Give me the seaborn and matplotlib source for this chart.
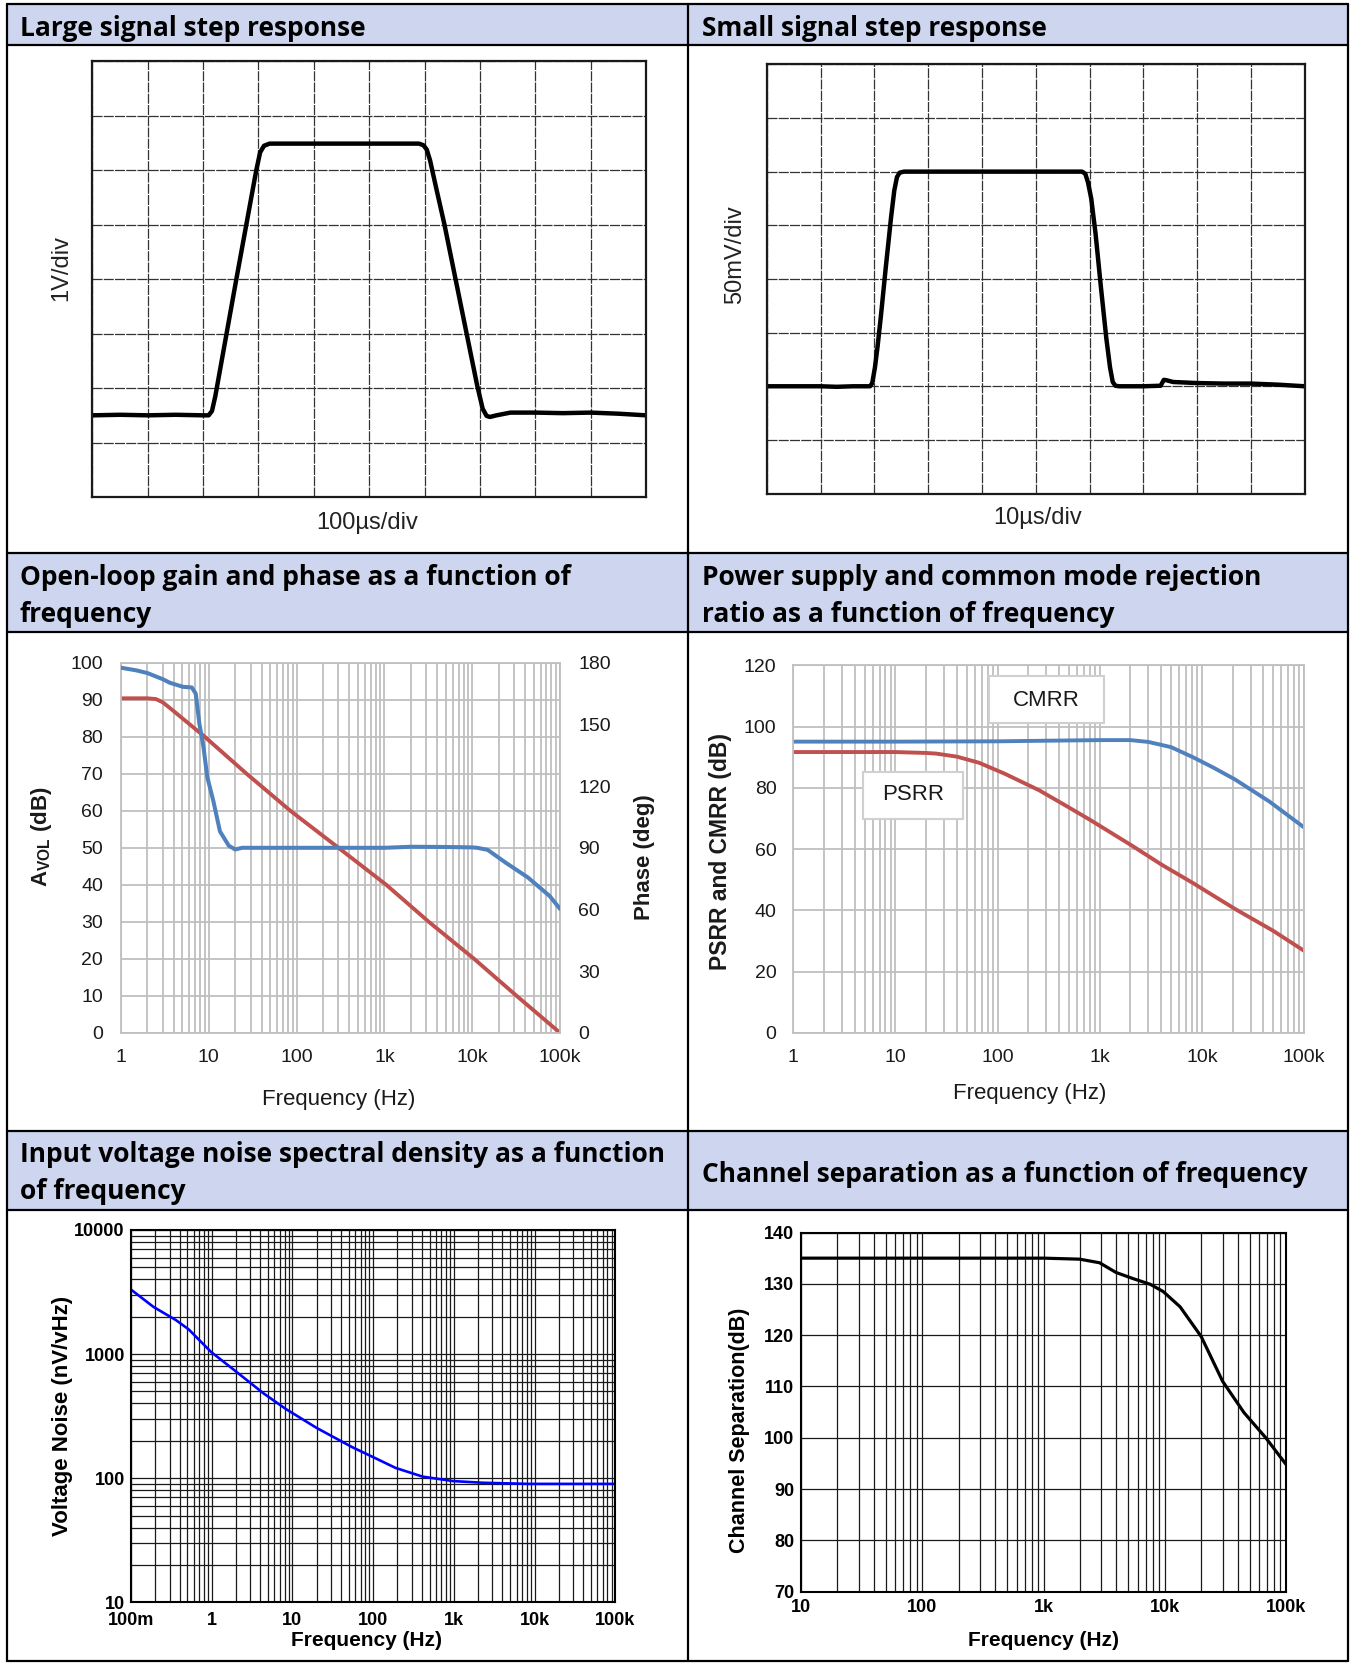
import numpy as np
import pandas as pd
import matplotlib
matplotlib.use("Agg")
import matplotlib.pyplot as plt
import seaborn as sns
from matplotlib.lines import Line2D
from matplotlib.patches import Rectangle
from matplotlib.ticker import FixedLocator, NullFormatter, LogLocator, FixedFormatter

# ---------------- data ----------------
# Large signal step response (divisions)
ls_t = [0, 0.5, 1.0, 1.5, 2.0, 2.10, 2.16, 2.22, 2.60, 2.96, 3.03, 3.10, 3.20, 4.0, 5.0,
        5.90, 5.98, 6.04, 6.10, 6.20, 6.36, 6.76, 6.95, 7.05, 7.12, 7.18, 7.30, 7.55, 8.0,
        8.5, 9.0, 9.5, 10.0]
ls_v = [1.50, 1.51, 1.50, 1.51, 1.50, 1.50, 1.58, 1.85, 4.00, 6.00, 6.33, 6.45, 6.49, 6.49, 6.49,
        6.49, 6.46, 6.38, 6.18, 5.72, 5.00, 3.00, 2.05, 1.62, 1.49, 1.47, 1.50, 1.55, 1.55,
        1.54, 1.55, 1.53, 1.50]

# Small signal step response (divisions)
ss_t = [0, 0.5, 1.0, 1.3, 1.6, 1.92, 1.96, 2.01, 2.06, 2.12, 2.21, 2.31, 2.37, 2.42, 2.47, 2.55,
        3.0, 4.0, 5.0, 5.86, 5.92, 5.97, 6.03, 6.11, 6.21, 6.31, 6.38, 6.43, 6.48, 6.55, 7.0,
        7.32, 7.38, 7.44, 7.55, 8.0, 8.5, 9.0, 9.5, 10.0]
ss_v = [2.00, 2.00, 2.00, 1.99, 2.00, 2.00, 2.06, 2.35, 2.75, 3.30, 4.20, 5.15, 5.65, 5.90, 5.98, 6.00,
        6.00, 6.00, 6.00, 6.00, 5.96, 5.80, 5.50, 4.85, 3.85, 2.90, 2.35, 2.08, 2.01, 2.00, 2.00,
        2.01, 2.12, 2.11, 2.08, 2.06, 2.05, 2.05, 2.03, 2.00]

# Open-loop gain and phase
gain_f = [1, 2, 2.5, 3, 4, 5, 9, 27, 85, 300, 1050, 3200, 10500, 32000, 100000]
gain_db = [90.4, 90.4, 90.2, 89.3, 86.9, 85.0, 80.0, 70.0, 60.0, 50.0, 40.0, 30.0, 20.0, 10.0, 0.0]
phase_f = [1, 1.5, 2, 3, 3.6, 4.5, 5.1, 6.4, 7.1, 7.8, 8.7, 9.6, 11.3, 13.4, 16.9, 20, 24, 50,
           100, 300, 1000, 2000, 5000, 10000, 11400, 15000, 24000, 43000, 76000, 100000]
phase_deg = [177.6, 176.3, 175.0, 172.0, 170.3, 169.0, 168.3, 168.0, 165.0, 150.5, 139.0, 124.5,
             112.5, 98.0, 91.0, 89.2, 90.0, 90.0, 90.0, 90.0, 90.0, 90.5, 90.4, 90.2, 90.0,
             89.0, 82.8, 75.6, 66.6, 60.3]

# PSRR / CMRR
cmrr_f = [1, 10, 100, 300, 1000, 2000, 3000, 5000, 8200, 13000, 21000, 46000, 100000]
cmrr_db = [95.1, 95.1, 95.2, 95.4, 95.6, 95.6, 95.0, 93.3, 90.0, 86.6, 82.8, 75.5, 67.1]
psrr_f = [1, 10, 20, 25, 40, 66, 118, 256, 500, 810, 2100, 4000, 8200, 21000, 50000, 100000]
psrr_db = [91.7, 91.7, 91.4, 91.2, 90.2, 88.2, 84.6, 79.2, 73.6, 69.5, 61.0, 55.0, 48.9, 40.5,
           33.3, 26.8]

# Voltage noise
noise_f = [0.1, 0.19, 0.36, 0.52, 0.98, 1.84, 4.4, 8.3, 20, 55, 102, 190, 410, 980, 2300,
           8500, 100000]
noise_v = [3310, 2400, 1880, 1580, 1042, 756, 482, 361, 254, 178, 147, 121, 103, 94.8, 91.9,
           90, 90]

# Channel separation
cs_f = [10, 100, 1000, 1990, 2900, 3970, 5500, 7600, 9700, 13400, 20000, 30000, 45000, 68000,
        100000]
cs_db = [135.0, 135.0, 135.0, 134.8, 134.1, 132.2, 131.0, 129.9, 128.5, 125.5, 119.7, 111.0,
         104.9, 100.0, 94.8]

# tick labels
freq_ticks_1_100k = [1, 10, 100, 1000, 10000, 100000]
freq_labels_1_100k = ["1", "10", "100", "1k", "10k", "100k"]
noise_xticks = [0.1, 1, 10, 100, 1000, 10000, 100000]
noise_xlabels = ["100m", "1", "10", "100", "1k", "10k", "100k"]
noise_yticks = [10, 100, 1000, 10000]
noise_ylabels = ["10", "100", "1000", "10000"]
cs_xticks = [10, 100, 1000, 10000, 100000]
cs_xlabels = ["10", "100", "1k", "10k", "100k"]

titles = {
    "r1l": ["Large signal step response"],
    "r1r": ["Small signal step response"],
    "r2l": ["Open-loop gain and phase as a function of", "frequency"],
    "r2r": ["Power supply and common mode rejection", "ratio as a function of frequency"],
    "r3l": ["Input voltage noise spectral density as a function", "of frequency"],
    "r3r": ["Channel separation as a function of frequency"],
}

# ---------------- style ----------------
sns.set_style("white")
plt.rcParams["font.family"] = ["Liberation Sans", "DejaVu Sans"]
plt.rcParams["mathtext.fontset"] = "custom"
plt.rcParams["mathtext.rm"] = "Liberation Sans"
plt.rcParams["mathtext.bf"] = "Liberation Sans:bold"

W, H = 1350, 1663
fig = plt.figure(figsize=(W / 100, H / 100), dpi=100)
fig.patch.set_facecolor("white")


def fx(x):
    return x / W


def fy(y):
    return 1 - y / H


def add_ax(l, t, r, b):
    return fig.add_axes([l / W, 1 - b / H, (r - l) / W, (b - t) / H])


HDR = "#CDD6EE"
TL, TR = 6.6, 1347.5
MID = 688.0
# header backgrounds
for (t, b) in [(3.6, 44.6), (553.0, 632.0), (1131.0, 1209.5)]:
    fig.patches.append(Rectangle((fx(TL), fy(b)), fx(TR) - fx(TL), fy(t) - fy(b),
                                 transform=fig.transFigure, facecolor=HDR, edgecolor="none",
                                 zorder=0))
# table lines
for y in [3.6, 44.6, 553.0, 632.0, 1131.0, 1209.5, 1661.0]:
    fig.add_artist(Line2D([fx(TL), fx(TR)], [fy(y), fy(y)], color="black", lw=1.6))
for x in [TL, MID, TR]:
    fig.add_artist(Line2D([fx(x), fx(x)], [fy(3.6), fy(1661.0)], color="black", lw=1.6))

# titles
TFONT = dict(family=["Open Sans", "DejaVu Sans"], weight="bold", size=19, color="black")


def title(x, baselines, lines):
    for yb, s in zip(baselines, lines):
        fig.text(fx(x), fy(yb), s, ha="left", va="baseline", **TFONT)


title(20, [36], titles["r1l"])
title(702, [36], titles["r1r"])
title(20, [585, 622], titles["r2l"])
title(702, [585, 622], titles["r2r"])
title(20, [1161.5, 1199], titles["r3l"])
title(702, [1181.6], titles["r3r"])


# ---------------- step response panels ----------------
def scope_axes(ax):
    ax.set_xlim(0, 10)
    ax.set_ylim(0, 8)
    ax.set_xticks(range(0, 11))
    ax.set_yticks(range(0, 9))
    ax.tick_params(length=0, labelbottom=False, labelleft=False)
    ax.grid(True, color="#333333", lw=0.9, ls=(0, (8, 1)))
    for sp in ax.spines.values():
        sp.set_color("#1a1a1a")
        sp.set_linewidth(1.6)
    ax.set_xlabel("")
    ax.set_ylabel("")


ax1 = add_ax(92.4, 61.4, 646, 497)
sns.lineplot(data=pd.DataFrame({"t": ls_t, "v": ls_v}), x="t", y="v", ax=ax1,
             color="black", lw=3.2, sort=False, estimator=None)
scope_axes(ax1)
fig.text(fx(61.6), fy(268), "1V/div", rotation=90, ha="center", va="center", size=17, color="#222")
fig.text(fx(367), fy(523), "100µs/div", ha="center", va="center", size=17, color="#222")

ax2 = add_ax(766.8, 64.3, 1304.8, 493.6)
sns.lineplot(data=pd.DataFrame({"t": ss_t, "v": ss_v}), x="t", y="v", ax=ax2,
             color="black", lw=3.2, sort=False, estimator=None)
scope_axes(ax2)
fig.text(fx(735.6), fy(255), "50mV/div", rotation=90, ha="center", va="center", size=17, color="#222")
fig.text(fx(1038), fy(518), "10µs/div", ha="center", va="center", size=17, color="#222")


# ---------------- excel-like log panels ----------------
GRID_G = "#BFBFBF"
RED = "#C0504D"
BLUE = "#4F81BD"


def excel_log_axes(ax, ymax, ystep):
    ax.set_xscale("log")
    ax.set_xlim(1, 100000)
    ax.set_ylim(0, ymax)
    ax.set_yticks(np.arange(0, ymax + 0.1, ystep))
    ax.xaxis.set_major_locator(FixedLocator(freq_ticks_1_100k))
    ax.xaxis.set_major_formatter(FixedFormatter(freq_labels_1_100k))
    ax.xaxis.set_minor_locator(LogLocator(base=10, subs=np.arange(2, 10)))
    ax.xaxis.set_minor_formatter(NullFormatter())
    ax.grid(True, which="both", axis="x", color=GRID_G, lw=1.3)
    ax.grid(True, which="major", axis="y", color=GRID_G, lw=1.3)
    ax.tick_params(which="both", length=0, labelsize=14, colors="#1a1a1a")
    ax.tick_params(axis="y", pad=13)
    ax.tick_params(axis="x", pad=12)
    for sp in ax.spines.values():
        sp.set_color(GRID_G)
        sp.set_linewidth(1.3)
    ax.set_xlabel("")
    ax.set_ylabel("")


ax3 = add_ax(121, 662.8, 560, 1032.8)
ax3.set_xscale("log")
sns.lineplot(data=pd.DataFrame({"f": gain_f, "g": gain_db}), x="f", y="g", ax=ax3,
             color=RED, lw=2.8, sort=False, estimator=None)
excel_log_axes(ax3, 100, 10)
ax3b = ax3.twinx()
sns.lineplot(data=pd.DataFrame({"f": phase_f, "p": phase_deg}), x="f", y="p", ax=ax3b,
             color=BLUE, lw=2.9, sort=False, estimator=None)
ax3b.set_ylim(0, 180)
ax3b.set_yticks(range(0, 181, 30))
ax3b.tick_params(length=0, labelsize=14, colors="#1a1a1a", pad=13)
ax3b.grid(False)
for sp in ax3b.spines.values():
    sp.set_visible(False)
ax3b.set_ylabel("")
ax3b.set_xlabel("")
ax3.set_xlim(1, 100000)
fig.text(fx(41.8), fy(837), r"$\mathbf{A}_{\mathbf{VOL}}$ (dB)", rotation=90, ha="center",
         va="center", size=16, weight="bold", color="#1a1a1a")
fig.text(fx(644.7), fy(857), "Phase (deg)", rotation=90, ha="center", va="center", size=16,
         weight="bold", color="#1a1a1a")
fig.text(fx(339), fy(1099), "Frequency (Hz)", ha="center", va="center", size=16, color="#1a1a1a")

ax4 = add_ax(793.2, 665.4, 1304, 1032.8)
ax4.set_xscale("log")
sns.lineplot(data=pd.DataFrame({"f": cmrr_f, "d": cmrr_db}), x="f", y="d", ax=ax4,
             color=BLUE, lw=2.8, sort=False, estimator=None)
sns.lineplot(data=pd.DataFrame({"f": psrr_f, "d": psrr_db}), x="f", y="d", ax=ax4,
             color=RED, lw=2.8, sort=False, estimator=None)
excel_log_axes(ax4, 120, 20)
ax4.tick_params(axis="y", pad=12)
# label boxes
for (x0, x1, y0, y1, tx, ty, s) in [(10 ** 1.917, 10 ** 3.04, 101.1, 116.5, 298, 108.5, "CMRR"),
                                     (10 ** 0.68, 10 ** 1.66, 69.7, 85.3, 14.8, 77.7, "PSRR")]:
    ax4.add_patch(Rectangle((x0, y0), x1 - x0, y1 - y0, facecolor="white", edgecolor="#D0D0D0",
                            lw=1.5, zorder=5))
    ax4.text(tx, ty, s, ha="center", va="center", size=16, color="#1a1a1a", zorder=6)
fig.text(fx(720.6), fy(852), "PSRR and CMRR (dB)", rotation=90, ha="center", va="center",
         size=16.5, weight="bold", color="#1a1a1a")
fig.text(fx(1030), fy(1094), "Frequency (Hz)", ha="center", va="center", size=16, color="#1a1a1a")


# ---------------- datasheet style panels ----------------
def black_log_axes(ax):
    for sp in ax.spines.values():
        sp.set_color("black")
        sp.set_linewidth(1.5)
    ax.tick_params(which="both", length=0, labelsize=13, colors="black")
    for lab in ax.get_xticklabels() + ax.get_yticklabels():
        lab.set_fontweight("bold")
    ax.set_xlabel("")
    ax.set_ylabel("")


ax5 = add_ax(131, 1230, 615.2, 1602.3)
ax5.set_xscale("log")
ax5.set_yscale("log")
sns.lineplot(data=pd.DataFrame({"f": noise_f, "n": noise_v}), x="f", y="n", ax=ax5,
             color="#0000FF", lw=1.9, sort=False, estimator=None)
ax5.set_xlim(0.1, 100000)
ax5.set_ylim(10, 10000)
ax5.xaxis.set_major_locator(FixedLocator(noise_xticks))
ax5.xaxis.set_major_formatter(FixedFormatter(noise_xlabels))
ax5.yaxis.set_major_locator(FixedLocator(noise_yticks))
ax5.yaxis.set_major_formatter(FixedFormatter(noise_ylabels))
ax5.xaxis.set_minor_locator(LogLocator(base=10, subs=np.arange(2, 10)))
ax5.yaxis.set_minor_locator(LogLocator(base=10, subs=np.arange(2, 10)))
ax5.xaxis.set_minor_formatter(NullFormatter())
ax5.yaxis.set_minor_formatter(NullFormatter())
ax5.grid(True, which="both", color="#1a1a1a", lw=0.9)
black_log_axes(ax5)
ax5.tick_params(axis="y", pad=4.5)
ax5.tick_params(axis="x", pad=7)
fig.text(fx(62.3), fy(1416), "Voltage Noise (nV/vHz)", rotation=90, ha="center", va="center",
         size=16, weight="bold", color="black")
fig.text(fx(366), fy(1640), "Frequency (Hz)", ha="center", va="center", size=15, weight="bold",
         color="black")

ax6 = add_ax(801, 1232.5, 1286, 1591.6)
ax6.set_xscale("log")
sns.lineplot(data=pd.DataFrame({"f": cs_f, "d": cs_db}), x="f", y="d", ax=ax6,
             color="black", lw=2.3, sort=False, estimator=None)
ax6.set_xlim(10, 100000)
ax6.set_ylim(70, 140)
ax6.set_yticks(range(70, 141, 10))
ax6.xaxis.set_major_locator(FixedLocator(cs_xticks))
ax6.xaxis.set_major_formatter(FixedFormatter(cs_xlabels))
ax6.xaxis.set_minor_locator(LogLocator(base=10, subs=np.arange(2, 10)))
ax6.xaxis.set_minor_formatter(NullFormatter())
ax6.grid(True, which="both", axis="x", color="#1a1a1a", lw=0.9)
ax6.grid(True, which="major", axis="y", color="#1a1a1a", lw=0.9)
black_log_axes(ax6)
ax6.tick_params(axis="y", pad=4.7)
ax6.tick_params(axis="x", pad=5)
fig.text(fx(740), fy(1430), "Channel Separation(dB)", rotation=90, ha="center", va="center",
         size=15.5, weight="bold", color="black")
fig.text(fx(1044), fy(1641), "Frequency (Hz)", ha="center", va="center", size=15, weight="bold",
         color="black")

fig.savefig("out.png", dpi=100, facecolor="white")
